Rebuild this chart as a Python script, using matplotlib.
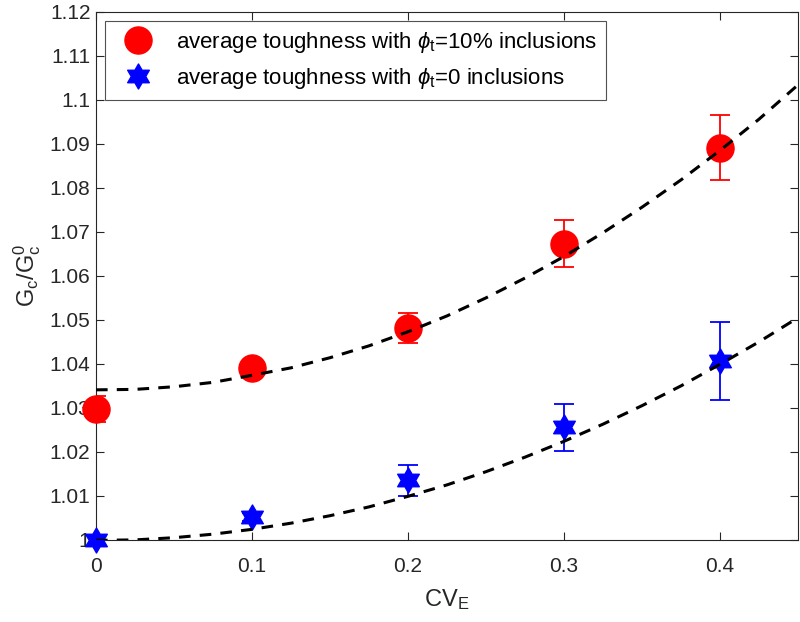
import matplotlib
matplotlib.use("Agg")
import numpy as np
import matplotlib.pyplot as plt
from matplotlib.path import Path

# --- data ---
cv = [0.0, 0.1, 0.2, 0.3, 0.4]
gc_incl = [1.0297, 1.0390, 1.0481, 1.0673, 1.0891]
err_incl = [0.0030, 0.0015, 0.0034, 0.0054, 0.0074]
gc_none = [1.0000, 1.0052, 1.0135, 1.0256, 1.0407]
err_none = [0.0006, 0.0010, 0.0036, 0.0053, 0.0089]

# fitted dashed curves
fit_x = [0.0, 0.025, 0.05, 0.075, 0.1, 0.125, 0.15, 0.175, 0.2, 0.225,
         0.25, 0.275, 0.3, 0.325, 0.35, 0.375, 0.4, 0.425, 0.45]
fit_incl = [1.0341, 1.0342, 1.0348, 1.0358, 1.0374, 1.0391, 1.0414, 1.0441,
            1.0473, 1.0509, 1.0550, 1.0595, 1.0644, 1.0698, 1.0756, 1.0818,
            1.0885, 1.0956, 1.1034]
fit_none = [0.9999, 1.0000, 1.0005, 1.0013, 1.0024, 1.0038, 1.0055, 1.0075,
            1.0099, 1.0125, 1.0155, 1.0188, 1.0224, 1.0263, 1.0305, 1.0350,
            1.0399, 1.0450, 1.0505]

xticks = [0, 0.1, 0.2, 0.3, 0.4]
xticklabels = ["0", "0.1", "0.2", "0.3", "0.4"]
yticks = [1.0, 1.01, 1.02, 1.03, 1.04, 1.05, 1.06, 1.07, 1.08, 1.09, 1.1, 1.11, 1.12]
yticklabels = ["1", "1.01", "1.02", "1.03", "1.04", "1.05", "1.06", "1.07",
               "1.08", "1.09", "1.1", "1.11", "1.12"]

labels = [r"average toughness with $\phi_{\rm t}$=10% inclusions",
          r"average toughness with $\phi_{\rm t}$=0 inclusions"]


def hexagram():
    # MATLAB-like six-pointed star (two overlapping triangles)
    ang = np.pi / 2 + np.arange(12) * np.pi / 6
    r = np.where(np.arange(12) % 2 == 0, 1.0, 1.0 / np.sqrt(3))
    verts = np.column_stack([r * np.cos(ang), r * np.sin(ang)])
    verts = np.vstack([verts, verts[:1]])
    return Path(verts, closed=True)


def main():
    plt.rcParams["font.family"] = ["Liberation Sans", "DejaVu Sans"]
    plt.rcParams["mathtext.fontset"] = "custom"
    plt.rcParams["mathtext.rm"] = "Liberation Sans"
    plt.rcParams["mathtext.it"] = "Liberation Sans:italic"

    fig = plt.figure(figsize=(8, 6.22), dpi=100)
    ax = fig.add_axes([0.12, 0.132, 0.8775, 0.849])

    ax.errorbar(cv, gc_incl, yerr=err_incl, fmt="none", ecolor="red",
                elinewidth=1.3, capsize=7, capthick=1.3, zorder=2)
    ax.errorbar(cv, gc_none, yerr=err_none, fmt="none", ecolor="blue",
                elinewidth=1.3, capsize=7, capthick=1.3, zorder=2)
    h1, = ax.plot(cv, gc_incl, linestyle="none", marker="o", color="red",
                  ms=19.5, zorder=3, clip_on=False, label=labels[0])
    h2, = ax.plot(cv, gc_none, linestyle="none", marker=hexagram(), color="blue",
                  ms=18, zorder=3, clip_on=False, label=labels[1])

    # dashed fits sit on top of the markers
    dash = (0, (3.8, 3.0))
    ax.plot(fit_x, fit_incl, color="black", lw=2.2, linestyle=dash, zorder=5)
    ax.plot(fit_x, fit_none, color="black", lw=2.2, linestyle=dash, zorder=5)

    ax.set_xlim(0, 0.45)
    ax.set_ylim(1.0, 1.12)
    ax.set_xticks(xticks)
    ax.set_xticklabels(xticklabels)
    ax.set_yticks(yticks)
    ax.set_yticklabels(yticklabels)
    ax.tick_params(direction="in", top=True, right=True, labelsize=15,
                   color="#262626", labelcolor="#262626", length=6, width=0.8)
    ax.tick_params(axis="x", pad=12)
    ax.tick_params(axis="y", pad=4)
    for s in ax.spines.values():
        s.set_color("#262626")
        s.set_linewidth(0.8)

    ax.set_xlabel(r"CV$_{\rm E}$", fontsize=17, color="#262626", labelpad=8)
    ax.set_ylabel(r"G$_{\rm c}$/G$_{\rm c}^{\rm 0}$", fontsize=17,
                  color="#262626")
    ax.yaxis.set_label_coords(-0.075, 0.5)

    leg = ax.legend(handles=[h1, h2], loc="upper left", fontsize=16,
                    frameon=True, fancybox=False, edgecolor="#262626",
                    borderaxespad=0.4, handletextpad=0.6, borderpad=0.4,
                    labelspacing=0.5, handlelength=2.2, markerscale=1.0)
    leg.get_frame().set_linewidth(0.8)
    leg.set_zorder(6)

    fig.savefig("out.png", dpi=100)


if __name__ == "__main__":
    main()
